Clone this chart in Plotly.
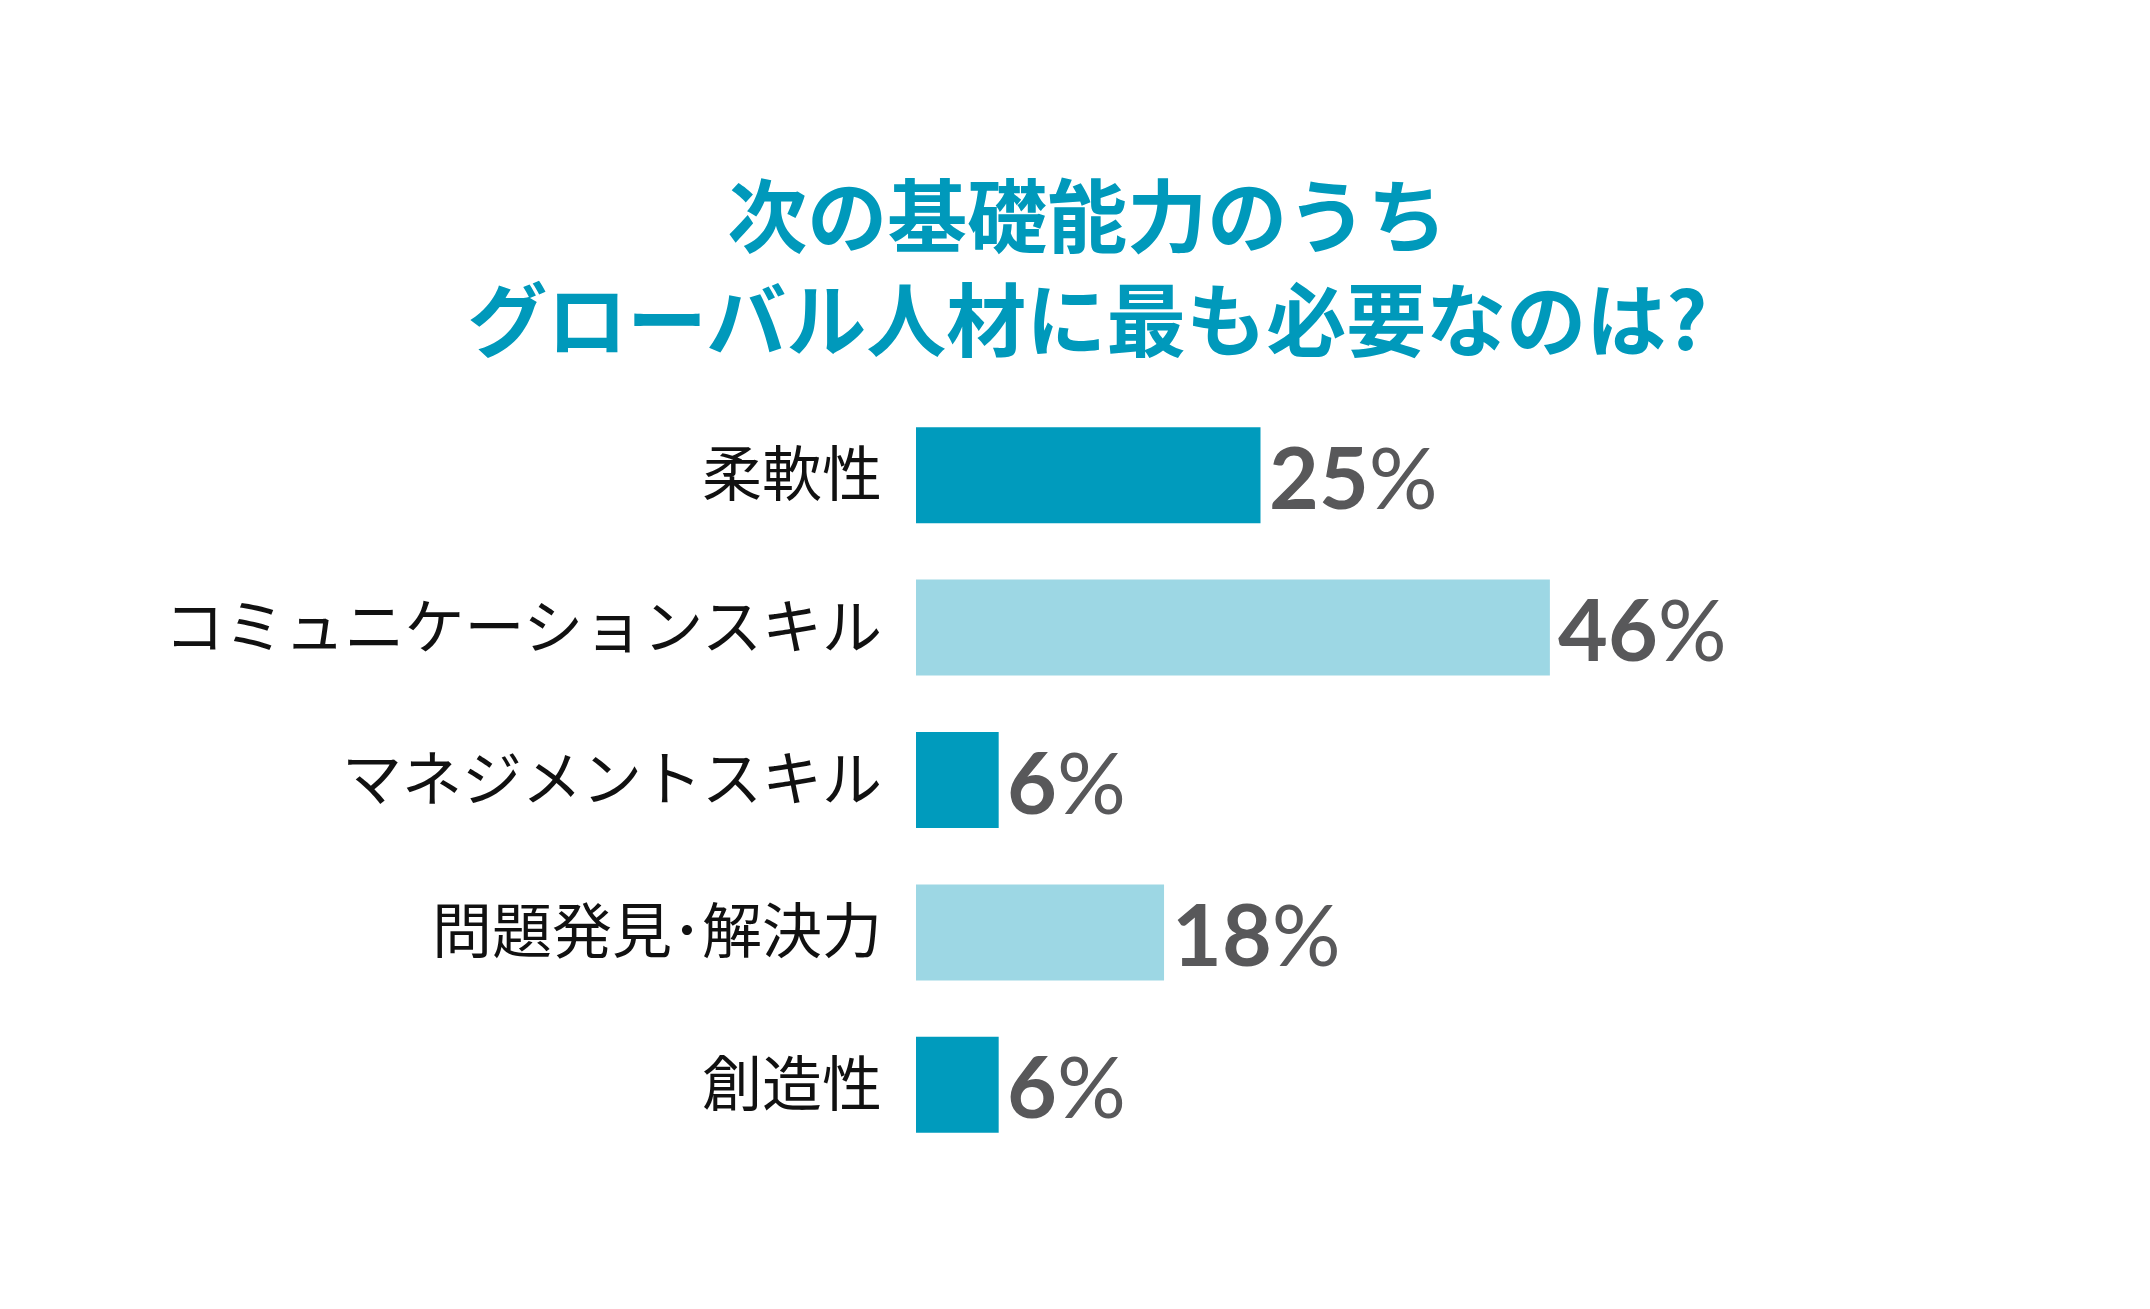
import plotly.graph_objects as go

# data
categories = ["柔軟性", "コミュニケーションスキル", "マネジメントスキル", "問題発見･解決力", "創造性"]
values = [25, 46, 6, 18, 6]
bar_colors = ["#009bbd", "#9dd7e4", "#009bbd", "#9dd7e4", "#009bbd"]

title_text = "次の基礎能力のうち<br>グローバル人材に最も必要なのは?"

fig = go.Figure(
    go.Bar(
        x=values,
        y=categories,
        orientation="h",
        marker=dict(color=bar_colors, line=dict(width=0)),
        hoverinfo="skip",
    )
)

# value labels just right of each bar end (bold digits, lighter % sign)
for cat, val in zip(categories, values):
    fig.add_annotation(
        x=val, y=cat, xref="x", yref="y",
        text=f"<b>{val}</b>%", showarrow=False,
        xanchor="left", yanchor="middle", xshift=6,
        font=dict(family="Lato", size=86, color="#58585a"),
    )

fig.update_layout(
    width=2150,
    height=1309,
    paper_bgcolor="white",
    plot_bgcolor="white",
    showlegend=False,
    bargap=0.37,
    margin=dict(l=908, r=553, t=391, b=156),
    title=dict(
        text=title_text,
        x=0.502,
        xanchor="center",
        y=0.818,
        yanchor="middle",
        yref="container",
        font=dict(family="Noto Sans CJK JP", size=80, color="#0099bb", weight="bold"),
    ),
    xaxis=dict(
        range=[0, 50],
        visible=False,
        showgrid=False,
        zeroline=False,
        fixedrange=True,
    ),
    yaxis=dict(
        autorange="reversed",
        showgrid=False,
        zeroline=False,
        showline=False,
        ticks="outside",
        ticklen=21,
        tickcolor="rgba(0,0,0,0)",
        tickfont=dict(family="Noto Sans CJK JP", size=60, color="#111111"),
        fixedrange=True,
    ),
)

fig.write_html("out.html")
